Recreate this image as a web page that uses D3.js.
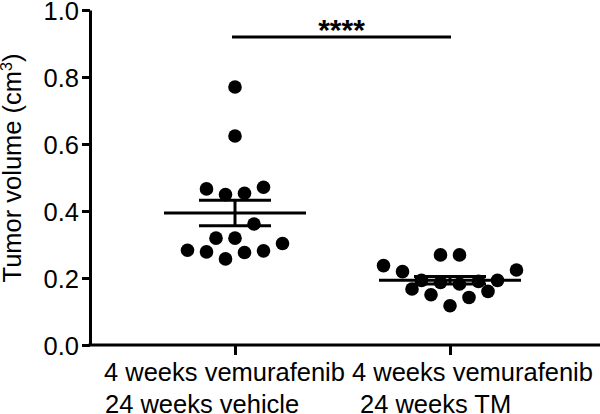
<!DOCTYPE html>
<html>
<head>
<meta charset="utf-8">
<script src="https://cdn.jsdelivr.net/npm/d3@7"></script>
<style>
  body { margin: 0; background: #fff; }
  text { font-family: "Liberation Sans", Arial, sans-serif; fill: #000; }
</style>
</head>
<body>
<svg id="chart" width="600" height="414"></svg>
<script>
// Chart data
const groups = ['vehicle', 'TM'];
const groupLabels = [
  ['4 weeks vemurafenib', '24 weeks vehicle'],
  ['4 weeks vemurafenib', '24 weeks TM']
];
const vehicleVolumes = [0.770, 0.624, 0.453, 0.449, 0.471, 0.466, 0.319, 0.361, 0.319,
  0.276, 0.257, 0.281, 0.278, 0.303, 0.283];
const tmVolumes = [0.269, 0.269, 0.182, 0.187, 0.190, 0.193, 0.193, 0.219, 0.224, 0.237,
  0.117, 0.142, 0.150, 0.160, 0.167];
const yTicks = [0.0, 0.2, 0.4, 0.6, 0.8, 1.0];
const yTitle = 'Tumor volume (cm';
const yTitleSup = '3';
const significance = '****';

const volumes = [vehicleVolumes, tmVolumes];

const svg = d3.select('#chart');
const axisLeftX = 90;
const pointR = 6.8;
const spacing = 19;
const rowSpan = 19;
const fontSize = '25.5px';

const y = d3.scaleLinear().domain([0, 1]).range([345, 10]);
const x = d3.scalePoint().domain(groups).range([235, 450]);

// y axis
const yAxis = svg.append('g')
  .attr('transform', `translate(${axisLeftX},0)`)
  .call(d3.axisLeft(y).tickValues(yTicks).tickFormat(d3.format('.1f')).tickSize(8).tickSizeOuter(0).tickPadding(3));
yAxis.select('.domain').attr('stroke', '#000').attr('stroke-width', 3);
yAxis.selectAll('.tick line').attr('stroke', '#000').attr('stroke-width', 3);
yAxis.selectAll('.tick text').style('font-size', fontSize).attr('dy', '0.36em');

// x axis: line + ticks
svg.append('line')
  .attr('x1', axisLeftX - 1.5).attr('x2', 600)
  .attr('y1', y(0)).attr('y2', y(0))
  .attr('stroke', '#000').attr('stroke-width', 3);

const xAxis = svg.append('g')
  .attr('transform', `translate(0,${y(0)})`)
  .call(d3.axisBottom(x).tickSize(10).tickFormat(''));
xAxis.select('.domain').remove();
xAxis.selectAll('.tick line').attr('stroke', '#000').attr('stroke-width', 3);

// category labels, two lines each, left aligned
const labelDx = [[-131, -130], [-98, -90]];
groups.forEach((g, gi) => {
  groupLabels[gi].forEach((line, li) => {
    svg.append('text')
      .attr('x', x(g) + labelDx[gi][li])
      .attr('y', 381 + li * 31.5)
      .style('font-size', fontSize)
      .text(line);
  });
});

// y title
const yt = svg.append('text')
  .attr('transform', 'translate(21,168) rotate(-90)')
  .attr('text-anchor', 'middle')
  .style('font-size', fontSize);
yt.append('tspan').text(yTitle);
yt.append('tspan').attr('dy', '-9').style('font-size', '16px').text(yTitleSup);
yt.append('tspan').attr('dy', '9').text(')');

// place points in rows, spreading sideways (Prism style)
function swarm(values, cx) {
  const sorted = values.map((v, i) => ({ v, i })).sort((a, b) => a.v - b.v);
  const rows = [];
  let cur = null;
  sorted.forEach(p => {
    if (!cur || y(cur.start) - y(p.v) > rowSpan) {
      cur = { start: p.v, pts: [] };
      rows.push(cur);
    }
    cur.pts.push(p);
  });
  const out = [];
  rows.forEach(r => {
    r.pts.sort((a, b) => a.i - b.i);
    const n = r.pts.length;
    r.pts.forEach((p, k) => {
      let slot;
      if (n % 2) slot = k === 0 ? 0 : Math.ceil(k / 2) * (k % 2 ? 1 : -1);
      else slot = (Math.floor(k / 2) + 0.5) * (k % 2 ? -1 : 1);
      out.push({ v: p.v, x: cx + slot * spacing });
    });
  });
  return out;
}

groups.forEach((g, gi) => {
  const vals = volumes[gi];
  const cx = x(g);
  const mean = d3.mean(vals);
  const sem = d3.deviation(vals) / Math.sqrt(vals.length);
  const gg = svg.append('g');

  gg.append('line')
    .attr('x1', cx - 71).attr('x2', cx + 71)
    .attr('y1', y(mean)).attr('y2', y(mean));
  [mean - sem, mean + sem].forEach(v => {
    gg.append('line')
      .attr('x1', cx - 36).attr('x2', cx + 36)
      .attr('y1', y(v)).attr('y2', y(v));
  });
  gg.append('line')
    .attr('x1', cx).attr('x2', cx)
    .attr('y1', y(mean - sem)).attr('y2', y(mean + sem));
  gg.selectAll('line').attr('stroke', '#000').attr('stroke-width', 3);

  gg.selectAll('circle')
    .data(swarm(vals, cx))
    .enter()
    .append('circle')
    .attr('cx', d => d.x)
    .attr('cy', d => y(d.v))
    .attr('r', pointR)
    .attr('fill', '#000');
});

// significance bar
svg.append('line')
  .attr('x1', x(groups[0]) - 3).attr('x2', x(groups[1]) + 1)
  .attr('y1', 37).attr('y2', 37)
  .attr('stroke', '#000').attr('stroke-width', 3);
svg.append('text')
  .attr('x', (x(groups[0]) + x(groups[1])) / 2 - 1)
  .attr('y', 40)
  .attr('text-anchor', 'middle')
  .style('font-size', '30px')
  .style('font-weight', 'bold')
  .text(significance);
</script>
</body>
</html>
